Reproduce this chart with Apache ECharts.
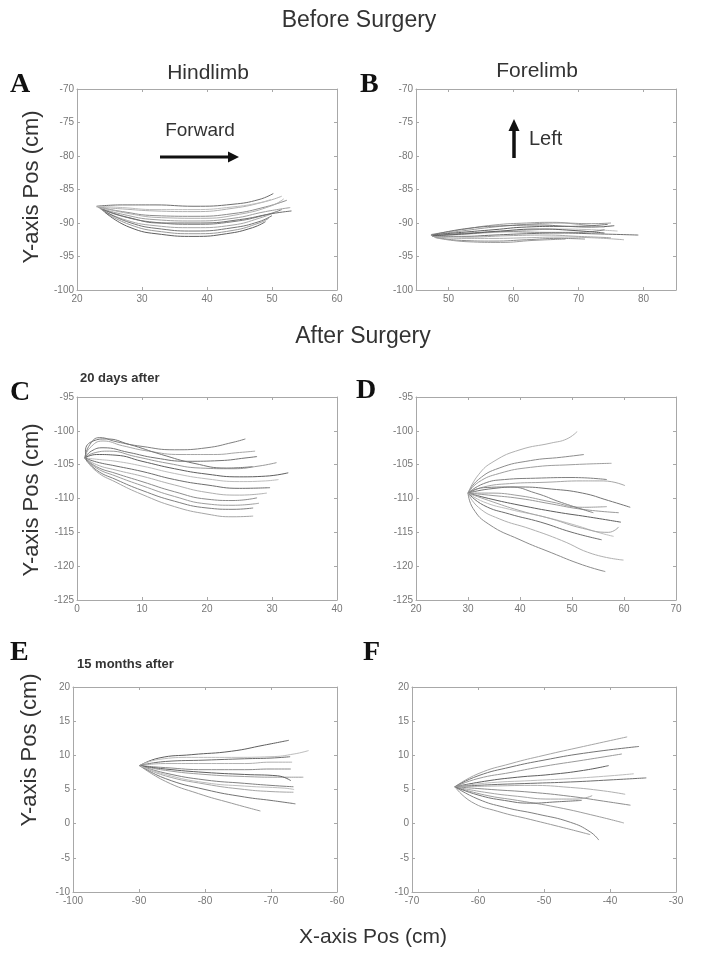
<!DOCTYPE html>
<html><head><meta charset="utf-8">
<script src="https://cdn.jsdelivr.net/npm/echarts@6/dist/echarts.min.js"></script>
<style>html,body{margin:0;padding:0;background:#fff}#c{width:706px;height:957px}</style>
</head><body><div id="c"></div>
<script>
// ---- Panel A: Hindlimb, before surgery ----
const hindBefore = [
 [[23.0,-87.5],[27,-87.3],[32,-87.3],[38,-87.5],[44,-87.2],[48,-86.5],[50.2,-85.6]],
 [[23.0,-87.6],[27,-87.9],[32,-88.2],[38,-88.3],[44,-87.8],[49,-86.8],[51.5,-86.0]],
 [[23.2,-87.6],[27,-88.3],[32,-88.9],[38,-89.0],[44,-88.6],[49,-87.6],[52.3,-86.6]],
 [[23.3,-87.7],[27,-88.7],[32,-89.5],[38,-89.7],[44,-89.3],[49,-88.3],[52.8,-87.7]],
 [[23.5,-87.8],[27,-89.0],[32,-89.9],[38,-90.2],[44,-89.8],[49,-88.8],[51.5,-88.0]],
 [[23.6,-87.9],[27,-89.4],[32,-90.4],[38,-90.7],[44,-90.3],[48,-89.3],[50.5,-88.4]],
 [[23.8,-88.0],[28,-89.9],[33,-90.9],[38,-91.2],[44,-90.7],[48,-89.8],[50,-88.9]],
 [[24.0,-88.2],[28,-90.2],[33,-91.3],[38,-91.6],[44,-91.1],[48,-90.0],[49.5,-89.3]],
 [[24.3,-88.4],[28,-90.6],[33,-91.7],[38,-92.0],[43,-91.6],[47,-90.7],[49,-89.8]],
 [[23.2,-87.5],[27,-87.7],[32,-88.0],[38,-88.0],[44,-87.6],[48,-87.0],[49.8,-86.5]],
 [[24.0,-88.0],[28,-89.2],[33,-90.0],[39,-90.0],[45,-89.5],[50,-88.6],[53,-88.2]],
 [[23.4,-87.6],[28,-88.6],[33,-89.2],[39,-89.3],[45,-88.7],[50,-87.4],[51.8,-86.4]]
];
// ---- Panel B: Forelimb, before surgery ----
const foreBefore = [
 [[47.3,-91.8],[52,-91.2],[57,-90.6],[62,-90.2],[67,-90.0],[72,-90.1],[75,-90.0]],
 [[47.3,-91.8],[52,-91.4],[57,-91.0],[62,-90.6],[67,-90.5],[72,-90.6],[75.5,-90.4]],
 [[47.5,-91.9],[52,-91.7],[57,-91.4],[62,-91.1],[67,-90.9],[72,-91.0],[76,-91.2]],
 [[47.5,-92.0],[52,-92.0],[57,-91.8],[62,-91.6],[67,-91.5],[72,-91.6],[79.2,-91.8]],
 [[47.6,-92.0],[52,-92.3],[57,-92.3],[62,-92.2],[67,-92.1],[72,-92.2],[77,-92.5]],
 [[47.8,-92.1],[52,-92.6],[57,-92.7],[62,-92.5],[67,-92.3],[71,-92.4]],
 [[47.4,-91.7],[52,-91.0],[57,-90.3],[62,-90.0],[66,-89.9],[70,-90.2],[74,-90.6]],
 [[47.5,-91.9],[53,-91.5],[59,-91.3],[65,-91.4],[70,-91.4],[74,-91.0]],
 [[47.7,-92.0],[53,-92.1],[59,-91.9],[65,-91.8],[70,-92.0],[75,-92.2]],
 [[47.4,-91.8],[53,-90.8],[59,-90.4],[64,-90.3],[69,-90.5],[74.5,-90.2]],
 [[48.0,-92.2],[53,-92.8],[58,-92.9],[63,-92.6],[68,-92.4]],
 [[47.6,-91.9],[53,-91.6],[58,-91.2],[64,-90.9],[69,-91.1],[74,-91.5]]
];
// ---- Panel C: Hindlimb, 20 days after ----
const hind20d = [
 [[1.2,-104],[2,-102],[3.5,-101],[6,-101.6],[10,-102.3],[15,-102.8],[20,-102.5],[24,-101.7],[25.9,-101.2]],
 [[1.2,-104],[2,-102.5],[4,-101.5],[7,-102.2],[11,-103.0],[16,-103.5],[21,-103.5],[25,-103.2],[27.4,-103.0]],
 [[1.2,-104],[2.2,-103],[4,-102.5],[8,-103.2],[12,-104.0],[17,-104.5],[22,-104.4],[26,-104.0],[27.7,-103.8]],
 [[1.2,-104],[2.5,-103.3],[5,-103.0],[9,-103.8],[14,-104.8],[19,-105.5],[24,-105.6],[28,-105.2],[30.7,-104.7]],
 [[1.2,-104],[3,-103.5],[6,-103.6],[10,-104.5],[15,-105.6],[20,-106.4],[25,-106.8],[29,-106.7],[32.5,-106.2]],
 [[1.2,-104],[3,-104.2],[6,-104.5],[10,-105.2],[15,-106.3],[20,-107.1],[25,-107.5],[29,-107.4],[31.0,-107.2]],
 [[1.2,-104],[3,-104.6],[6,-105.2],[10,-106.0],[15,-107.2],[20,-108.0],[25,-108.5],[29.7,-108.4]],
 [[1.2,-104],[3,-105.0],[6,-105.8],[10,-106.7],[15,-108.0],[20,-109.1],[25,-109.5],[29.2,-109.2]],
 [[1.2,-104],[3,-105.3],[6,-106.3],[10,-107.5],[15,-109.0],[20,-110.1],[24,-110.3],[27.7,-109.9]],
 [[1.2,-104],[3,-105.5],[6,-106.7],[10,-108.1],[15,-109.7],[20,-110.8],[24,-111.0],[28,-110.7]],
 [[1.2,-104],[3,-105.8],[6,-107.2],[10,-108.8],[15,-110.4],[20,-111.4],[24,-111.6],[27.1,-111.4]],
 [[1.2,-104],[3,-106.0],[6,-107.6],[10,-109.4],[15,-111.2],[20,-112.3],[24,-112.7],[27.1,-112.6]],
 [[1.5,-104.5],[1.3,-103],[2.5,-101.5],[4.5,-101.2],[8,-102],[13,-103.5],[18,-104.8],[23,-105.5],[27,-105.3]]
];
// ---- Panel D: Forelimb, 20 days after ----
const fore20d = [
 [[30,-109.2],[32,-106.5],[35,-104.5],[40,-102.8],[46,-101.8],[49,-101.2],[51,-100.1]],
 [[30,-109.2],[32,-107.2],[36,-105.5],[42,-104.4],[48,-103.9],[52.3,-103.5]],
 [[30,-109.2],[32,-107.6],[36,-106.3],[42,-105.4],[50,-105.0],[57.6,-104.8]],
 [[30,-109.2],[33,-107.8],[37,-107.2],[43,-107.0],[50,-106.9],[56.7,-107.2]],
 [[30,-109.2],[33,-108.3],[38,-107.8],[45,-107.6],[52,-107.4],[56,-107.4],[60.2,-108.1]],
 [[30,-109.2],[34,-108.6],[40,-108.3],[46,-108.6],[52,-109.2],[57,-110.3],[61.2,-111.3]],
 [[30,-109.2],[34,-109.5],[40,-110.0],[46,-110.8],[52,-111.6],[59,-112.1]],
 [[30,-109.2],[34,-110.0],[40,-111.0],[47,-112.0],[53,-112.7],[59.4,-113.5]],
 [[30,-109.2],[33,-110.5],[38,-111.6],[44,-112.6],[50,-113.8],[55,-115.0],[58,-115.6]],
 [[30,-109.2],[33,-111.0],[38,-112.3],[44,-113.5],[50,-115.0],[55.7,-116.1]],
 [[30,-109.2],[32,-111.3],[36,-113.0],[42,-114.5],[48,-116.2],[54,-118.2],[59.9,-119.1]],
 [[30,-109.2],[31,-111.5],[34,-113.8],[40,-116.1],[46,-118.0],[52,-119.8],[56.4,-120.8]],
 [[30,-109.2],[34,-109.2],[40,-109.6],[46,-110.5],[52,-111.3],[56.7,-111.2]],
 [[30,-109.2],[33,-108.4],[38,-108.3],[43,-109.2],[48,-110.6],[54.1,-112.1]],
 [[30,-109.2],[34,-110.3],[40,-111.8],[46,-113.0],[52,-114.4],[57,-115.0],[59,-114.2]]
];
// ---- Panel E: Hindlimb, 15 months after ----
const hind15m = [
 [[-89.9,8.5],[-87,9.6],[-82,10.1],[-76,10.6],[-71,11.5],[-67.3,12.2]],
 [[-89.9,8.5],[-87,9.4],[-82,9.7],[-76,9.7],[-70,9.8],[-66.5,10.2],[-64.3,10.7]],
 [[-89.9,8.5],[-86,9.1],[-80,9.3],[-74,9.5],[-70,9.6],[-67.1,9.8]],
 [[-89.9,8.5],[-86,8.8],[-80,8.8],[-74,8.8],[-70,9.0],[-66.8,9.0]],
 [[-89.9,8.5],[-86,8.2],[-80,7.9],[-74,7.9],[-70,8.0],[-67,8.0]],
 [[-89.9,8.5],[-86,7.8],[-80,7.2],[-74,6.9],[-69,6.8],[-65.1,6.8]],
 [[-89.9,8.5],[-86,7.4],[-80,6.4],[-74,5.9],[-70,5.6],[-66.6,5.4]],
 [[-89.9,8.5],[-86,7.0],[-80,5.8],[-74,5.0],[-70,4.7],[-66.6,4.6]],
 [[-89.9,8.5],[-86,6.6],[-80,5.0],[-74,3.9],[-70,3.4],[-66.3,2.9]],
 [[-89.9,8.5],[-86,6.2],[-81,4.4],[-76,3.0],[-71.6,1.85]],
 [[-89.9,8.5],[-86,8.0],[-80,7.5],[-74,7.2],[-69,7.0],[-67,6.3]],
 [[-89.9,8.5],[-86,7.2],[-80,6.0],[-74,5.5],[-68,5.2],[-66.5,5.0]]
];
// ---- Panel F: Forelimb, 15 months after ----
const fore15m = [
 [[-63.5,5.4],[-60,7.3],[-55,8.8],[-50,10.0],[-44,11.3],[-37.4,12.7]],
 [[-63.5,5.4],[-60,7.0],[-55,8.3],[-50,9.3],[-44,10.3],[-35.6,11.3]],
 [[-63.5,5.4],[-60,6.6],[-55,7.5],[-50,8.4],[-44,9.3],[-38.2,10.2]],
 [[-63.5,5.4],[-59,6.2],[-54,6.8],[-49,7.2],[-44,7.8],[-40.2,8.5]],
 [[-63.5,5.4],[-58,6.0],[-52,6.3],[-46,6.6],[-40,7.0],[-36.4,7.3]],
 [[-63.5,5.4],[-58,5.7],[-52,5.9],[-46,6.1],[-40,6.4],[-34.5,6.7]],
 [[-63.5,5.4],[-58,5.5],[-52,5.6],[-46,5.3],[-41,4.8],[-37.7,4.3]],
 [[-63.5,5.4],[-58,5.0],[-52,4.6],[-46,4.0],[-41,3.3],[-36.9,2.7]],
 [[-63.5,5.4],[-59,4.2],[-54,3.4],[-48,2.4],[-42,1.1],[-37.9,0.1]],
 [[-63.5,5.4],[-60,3.6],[-56,2.4],[-51,1.4],[-46,0.2],[-43,-1.2],[-41.7,-2.4]],
 [[-63.5,5.4],[-59,4.6],[-54,4.0],[-49,3.6],[-45,3.6],[-42.7,4.1]],
 [[-63.5,5.4],[-60,4.2],[-56,3.4],[-52,3.0],[-48,3.2],[-44.3,3.4]],
 [[-63.5,5.4],[-61,3.2],[-57,1.8],[-52,0.6],[-47,-0.6],[-43,-1.6]]
];

// axis ranges per panel: [min, max, interval]
const xRanges = [[20,60,10],[45,85,10],[0,40,10],[20,70,10],[-100,-60,10],[-70,-30,10]];
const yRanges = [[-100,-70,5],[-100,-70,5],[-125,-95,5],[-125,-95,5],[-10,20,5],[-10,20,5]];
const xTickValuesB = [50,60,70,80];

const panels = [hindBefore, foreBefore, hind20d, fore20d, hind15m, fore15m];
const grids = [
  {left:77, top:89, width:260, height:201},
  {left:416, top:89, width:260, height:201},
  {left:77, top:397, width:260, height:203},
  {left:416, top:397, width:260, height:203},
  {left:73, top:687, width:264, height:205},
  {left:412, top:687, width:264, height:205}
];
const grays = ['#6e6e6e','#9a9a9a','#808080','#b0b0b0','#5e5e5e','#a6a6a6','#8c8c8c','#bdbdbd','#747474','#9e9e9e'];

const axColor = '#a8a8a8';
const xAxes = [], yAxes = [], series = [];
panels.forEach((trajs, p) => {
  const xr = xRanges[p], yr = yRanges[p];
  const custom = p === 1;
  ['bottom','top'].forEach((pos, k) => {
    const ax = {
      gridIndex: p, type: 'value', position: pos, min: xr[0], max: xr[1],
      axisLine: {show: true, onZero: false, lineStyle: {color: axColor, width: 1}},
      axisTick: {show: true, inside: true, length: 3, lineStyle: {color: axColor}},
      axisLabel: {show: k === 0, color: '#777', fontSize: 10, margin: 4, fontFamily: 'Liberation Sans'},
      splitLine: {show: false}
    };
    if (custom) {
      ax.axisTick.customValues = xTickValuesB;
      ax.axisLabel.customValues = xTickValuesB;
    } else {
      ax.interval = xr[2];
    }
    xAxes.push(ax);
  });
  ['left','right'].forEach((pos, k) => {
    yAxes.push({
      gridIndex: p, type: 'value', position: pos, min: yr[0], max: yr[1], interval: yr[2],
      axisLine: {show: true, onZero: false, lineStyle: {color: axColor, width: 1}},
      axisTick: {show: true, inside: true, length: 3, lineStyle: {color: axColor}},
      axisLabel: {show: k === 0, color: '#777', fontSize: 10, margin: 3, fontFamily: 'Liberation Sans'},
      splitLine: {show: false}
    });
  });
  trajs.forEach((t, i) => {
    series.push({
      type: 'line', xAxisIndex: 2*p, yAxisIndex: 2*p, data: t, smooth: 0.5,
      symbol: 'none', silent: true, animation: false,
      lineStyle: {color: grays[(i*3 + p) % grays.length], width: 1}
    });
  });
});

const sans = 'Liberation Sans, Arial, sans-serif';
const serif = 'bold 28px Liberation Serif, Times New Roman, serif';
function txt(text, x, y, font, align, fill, rot) {
  const el = {type:'text', x:x, y:y, style:{text:text, font:font, fill:fill||'#333',
    align:align||'center', verticalAlign:'middle', textAlign:align||'center', textVerticalAlign:'middle'}};
  if (rot) el.rotation = rot;
  return el;
}
const graphics = [
  txt('Before Surgery', 359, 21, '23px ' + sans),
  txt('Hindlimb', 208, 73, '21px ' + sans),
  txt('Forelimb', 537, 71, '21px ' + sans),
  txt('After Surgery', 363, 337, '23px ' + sans),
  txt('X-axis Pos (cm)', 373, 937, '21px ' + sans),
  txt('Y-axis Pos (cm)', 32, 187, '22px ' + sans, 'center', '#333', Math.PI/2),
  txt('Y-axis Pos (cm)', 32, 500, '22px ' + sans, 'center', '#333', Math.PI/2),
  txt('Y-axis Pos (cm)', 30, 750, '22px ' + sans, 'center', '#333', Math.PI/2),
  txt('A', 10, 85, serif, 'left', '#111'),
  txt('B', 360, 85, serif, 'left', '#111'),
  txt('C', 10, 393, serif, 'left', '#111'),
  txt('D', 356, 391, serif, 'left', '#111'),
  txt('E', 10, 653, serif, 'left', '#111'),
  txt('F', 363, 653, serif, 'left', '#111'),
  txt('20 days after', 80, 378, 'bold 13px ' + sans, 'left', '#333'),
  txt('15 months after', 77, 664, 'bold 13px ' + sans, 'left', '#333'),
  txt('Forward', 200, 131, '19px ' + sans, 'center', '#333'),
  txt('Left', 529, 139, '20px ' + sans, 'left', '#333'),
  {type:'line', shape:{x1:160, y1:157, x2:229, y2:157}, style:{stroke:'#111', lineWidth:3}},
  {type:'polygon', shape:{points:[[228,151.5],[239,157],[228,162.5]]}, style:{fill:'#111'}},
  {type:'line', shape:{x1:514, y1:158, x2:514, y2:130}, style:{stroke:'#111', lineWidth:3.5}},
  {type:'polygon', shape:{points:[[508.5,131],[514,119],[519.5,131]]}, style:{fill:'#111'}}
];

const chart = echarts.init(document.getElementById('c'), null, {renderer:'canvas'});
chart.setOption({
  animation: false,
  backgroundColor: '#fff',
  grid: grids.map(g => Object.assign({show:false, containLabel:false}, g)),
  xAxis: xAxes,
  yAxis: yAxes,
  series: series,
  graphic: graphics
});
</script></body></html>
